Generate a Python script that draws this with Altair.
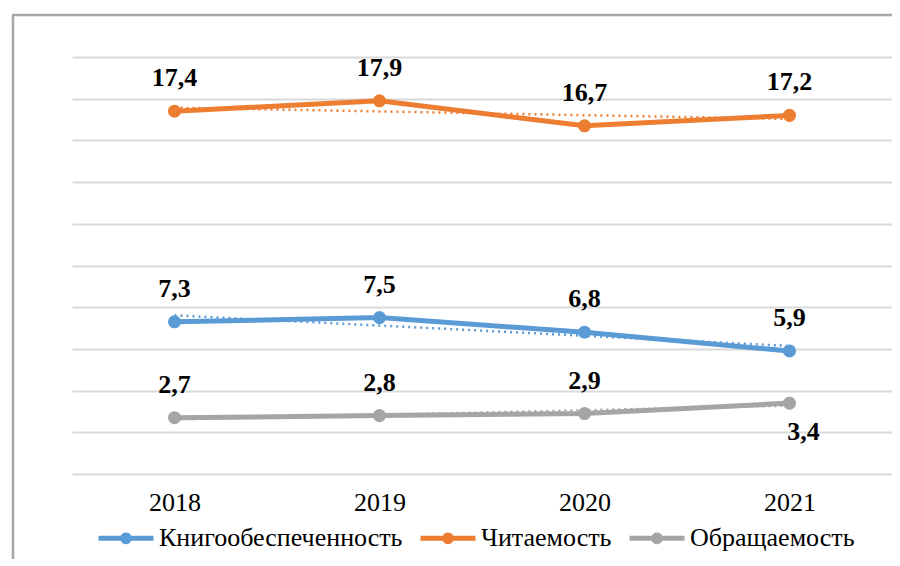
import altair as alt
import pandas as pd

years = [2018, 2019, 2020, 2021]
series_names = ["Книгообеспеченность", "Читаемость", "Обращаемость"]
kniga = [7.3, 7.5, 6.8, 5.9]
chit = [17.4, 17.9, 16.7, 17.2]
obr = [2.7, 2.8, 2.9, 3.4]
colors = ["#5B9BD5", "#ED7D31", "#A5A5A5"]
y_ticks = [0, 2, 4, 6, 8, 10, 12, 14, 16, 18, 20]

rows = []
for name, vals in zip(series_names, [kniga, chit, obr]):
    for yr, v in zip(years, vals):
        rows.append({"year": yr, "series": name, "value": v})
df = pd.DataFrame(rows)

FONT = "Liberation Serif"
FS = 26

x_enc = alt.X("year:O", scale=alt.Scale(type="point", padding=0.5),
              axis=alt.Axis(title=None, labelAngle=0, ticks=False, domain=False,
                            labelFont=FONT, labelFontSize=FS, labelColor="#000000",
                            labelPadding=15, grid=False))
y_enc = alt.Y("value:Q", scale=alt.Scale(domain=[0, 20], nice=False),
              axis=alt.Axis(title=None, values=y_ticks, labels=False, ticks=False,
                            domain=False, grid=True, gridColor="#d9d9d9", gridWidth=2))
color_scale = alt.Scale(domain=series_names, range=colors)

legend = alt.Legend(
    title=None, orient="none", direction="horizontal",
    legendX=24, legendY=451,
    symbolType="M-1,0H1M-0.12,0A0.12,0.12,0,1,1,0.12,0A0.12,0.12,0,1,1,-0.12,0",
    symbolSize=3025, symbolStrokeWidth=5, symbolDash=[1, 0],
    symbolFillColor="transparent",
    labelFont=FONT, labelFontSize=FS, labelColor="#000000",
    labelOffset=3, columnPadding=7, labelLimit=400)

color_enc = alt.Color("series:N", scale=color_scale, sort=series_names, legend=legend)

base = alt.Chart(df)

lines = base.mark_line(strokeWidth=5, strokeCap="round").encode(
    x=x_enc, y=y_enc, color=color_enc,
)

points = base.mark_circle(size=170, opacity=1).encode(
    x=x_enc, y=y_enc, color=color_enc,
)

trend = base.transform_regression(
    "year", "value", groupby=["series"], method="linear"
).mark_line(strokeWidth=2.5, strokeDash=[2, 4]).encode(
    x=x_enc, y=y_enc, color=color_enc,
)

label_calc = "replace(format(datum.value, '.1f'), '.', ',')"

labels_above = base.transform_filter(
    "!(datum.series == 'Обращаемость' && datum.year == 2021)"
).transform_calculate(lbl=label_calc).mark_text(
    font=FONT, fontSize=FS, fontWeight="bold", color="#000000", dy=-33, baseline="middle"
).encode(x=x_enc, y=y_enc, text="lbl:N")

labels_below = base.transform_filter(
    "datum.series == 'Обращаемость' && datum.year == 2021"
).transform_calculate(lbl=label_calc).mark_text(
    font=FONT, fontSize=FS, fontWeight="bold", color="#000000", dy=29, dx=14, baseline="middle"
).encode(x=x_enc, y=y_enc, text="lbl:N")

frame_df = pd.DataFrame({"a": [0]})
frame_left = alt.Chart(frame_df).mark_rule(color="#a6a6a6", strokeWidth=2.5).encode(
    x=alt.value(-59), y=alt.value(-42), y2=alt.value(700))
frame_top = alt.Chart(frame_df).mark_rule(color="#a6a6a6", strokeWidth=2.5).encode(
    x=alt.value(-60), x2=alt.value(900), y=alt.value(-42))

chart = alt.layer(frame_left, frame_top, trend, lines, points, labels_above, labels_below).properties(
    width=820, height=417,
    padding={"left": 64, "top": 49, "right": 0, "bottom": 85},
    autosize=alt.AutoSizeParams(type="none"),
    background="#ffffff",
).configure_view(strokeWidth=0, strokeOpacity=0)

chart.save("out.html", embed_options={"renderer": "svg", "actions": False})
